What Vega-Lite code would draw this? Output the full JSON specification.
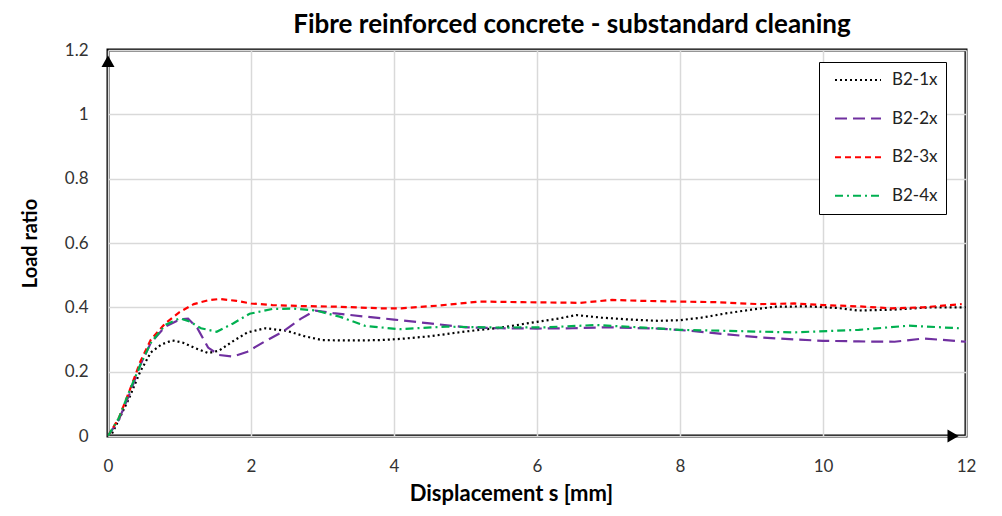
{
  "$schema": "https://vega.github.io/schema/vega-lite/v6.json",
  "width": 858,
  "height": 386,
  "autosize": {"type": "none"},
  "padding": {"left": 108, "top": 50, "right": 36, "bottom": 80},
  "config": {
    "font": "Lato",
    "view": {"stroke": "#000000", "strokeWidth": 3},
    "axis": {"labelFont": "Lato", "titleFont": "Lato"}
  },
  "title": {
    "text": "Fibre reinforced concrete - substandard cleaning",
    "font": "Lato",
    "fontSize": 26,
    "fontWeight": "bold",
    "color": "#000000",
    "anchor": "middle",
    "dx": 35,
    "offset": 3
  },
  "datasets": {
    "curves": [
      {"s": 0, "r": 0, "series": "B2-1x"},
      {"s": 0.05, "r": 0.005, "series": "B2-1x"},
      {"s": 0.15, "r": 0.05, "series": "B2-1x"},
      {"s": 0.3, "r": 0.12, "series": "B2-1x"},
      {"s": 0.45, "r": 0.2, "series": "B2-1x"},
      {"s": 0.6, "r": 0.26, "series": "B2-1x"},
      {"s": 0.75, "r": 0.285, "series": "B2-1x"},
      {"s": 0.9, "r": 0.297, "series": "B2-1x"},
      {"s": 1.05, "r": 0.29, "series": "B2-1x"},
      {"s": 1.2, "r": 0.275, "series": "B2-1x"},
      {"s": 1.4, "r": 0.258, "series": "B2-1x"},
      {"s": 1.55, "r": 0.265, "series": "B2-1x"},
      {"s": 1.75, "r": 0.295, "series": "B2-1x"},
      {"s": 1.95, "r": 0.322, "series": "B2-1x"},
      {"s": 2.2, "r": 0.335, "series": "B2-1x"},
      {"s": 2.5, "r": 0.327, "series": "B2-1x"},
      {"s": 2.75, "r": 0.31, "series": "B2-1x"},
      {"s": 3.0, "r": 0.298, "series": "B2-1x"},
      {"s": 3.4, "r": 0.297, "series": "B2-1x"},
      {"s": 3.8, "r": 0.298, "series": "B2-1x"},
      {"s": 4.1, "r": 0.302, "series": "B2-1x"},
      {"s": 4.5, "r": 0.31, "series": "B2-1x"},
      {"s": 5.0, "r": 0.325, "series": "B2-1x"},
      {"s": 5.5, "r": 0.337, "series": "B2-1x"},
      {"s": 6.0, "r": 0.355, "series": "B2-1x"},
      {"s": 6.3, "r": 0.365, "series": "B2-1x"},
      {"s": 6.55, "r": 0.376, "series": "B2-1x"},
      {"s": 6.9, "r": 0.368, "series": "B2-1x"},
      {"s": 7.3, "r": 0.362, "series": "B2-1x"},
      {"s": 7.7, "r": 0.358, "series": "B2-1x"},
      {"s": 8.0, "r": 0.36, "series": "B2-1x"},
      {"s": 8.3, "r": 0.368, "series": "B2-1x"},
      {"s": 8.64, "r": 0.381, "series": "B2-1x"},
      {"s": 9.0, "r": 0.393, "series": "B2-1x"},
      {"s": 9.34, "r": 0.402, "series": "B2-1x"},
      {"s": 9.8, "r": 0.403, "series": "B2-1x"},
      {"s": 10.2, "r": 0.398, "series": "B2-1x"},
      {"s": 10.5, "r": 0.39, "series": "B2-1x"},
      {"s": 11.0, "r": 0.393, "series": "B2-1x"},
      {"s": 11.5, "r": 0.4, "series": "B2-1x"},
      {"s": 12.0, "r": 0.4, "series": "B2-1x"},

      {"s": 0, "r": 0, "series": "B2-2x"},
      {"s": 0.15, "r": 0.05, "series": "B2-2x"},
      {"s": 0.3, "r": 0.13, "series": "B2-2x"},
      {"s": 0.45, "r": 0.22, "series": "B2-2x"},
      {"s": 0.6, "r": 0.29, "series": "B2-2x"},
      {"s": 0.8, "r": 0.34, "series": "B2-2x"},
      {"s": 1.0, "r": 0.362, "series": "B2-2x"},
      {"s": 1.12, "r": 0.365, "series": "B2-2x"},
      {"s": 1.25, "r": 0.335, "series": "B2-2x"},
      {"s": 1.4, "r": 0.275, "series": "B2-2x"},
      {"s": 1.55, "r": 0.252, "series": "B2-2x"},
      {"s": 1.75, "r": 0.247, "series": "B2-2x"},
      {"s": 1.95, "r": 0.262, "series": "B2-2x"},
      {"s": 2.2, "r": 0.295, "series": "B2-2x"},
      {"s": 2.45, "r": 0.325, "series": "B2-2x"},
      {"s": 2.7, "r": 0.365, "series": "B2-2x"},
      {"s": 2.9, "r": 0.39, "series": "B2-2x"},
      {"s": 3.15, "r": 0.382, "series": "B2-2x"},
      {"s": 3.6, "r": 0.371, "series": "B2-2x"},
      {"s": 4.0, "r": 0.362, "series": "B2-2x"},
      {"s": 4.5, "r": 0.35, "series": "B2-2x"},
      {"s": 5.0, "r": 0.338, "series": "B2-2x"},
      {"s": 5.5, "r": 0.335, "series": "B2-2x"},
      {"s": 6.0, "r": 0.334, "series": "B2-2x"},
      {"s": 6.5, "r": 0.335, "series": "B2-2x"},
      {"s": 7.0, "r": 0.338, "series": "B2-2x"},
      {"s": 7.7, "r": 0.334, "series": "B2-2x"},
      {"s": 8.2, "r": 0.326, "series": "B2-2x"},
      {"s": 8.55, "r": 0.318, "series": "B2-2x"},
      {"s": 9.1, "r": 0.307, "series": "B2-2x"},
      {"s": 9.6, "r": 0.3, "series": "B2-2x"},
      {"s": 10.0, "r": 0.296, "series": "B2-2x"},
      {"s": 10.5, "r": 0.294, "series": "B2-2x"},
      {"s": 11.0, "r": 0.293, "series": "B2-2x"},
      {"s": 11.4, "r": 0.303, "series": "B2-2x"},
      {"s": 11.6, "r": 0.3, "series": "B2-2x"},
      {"s": 12.0, "r": 0.293, "series": "B2-2x"},

      {"s": 0, "r": 0, "series": "B2-3x"},
      {"s": 0.15, "r": 0.055, "series": "B2-3x"},
      {"s": 0.3, "r": 0.14, "series": "B2-3x"},
      {"s": 0.45, "r": 0.23, "series": "B2-3x"},
      {"s": 0.6, "r": 0.3, "series": "B2-3x"},
      {"s": 0.8, "r": 0.35, "series": "B2-3x"},
      {"s": 1.0, "r": 0.385, "series": "B2-3x"},
      {"s": 1.2, "r": 0.41, "series": "B2-3x"},
      {"s": 1.4, "r": 0.422, "series": "B2-3x"},
      {"s": 1.56, "r": 0.426, "series": "B2-3x"},
      {"s": 1.8, "r": 0.42, "series": "B2-3x"},
      {"s": 2.0, "r": 0.412, "series": "B2-3x"},
      {"s": 2.3, "r": 0.407, "series": "B2-3x"},
      {"s": 2.7, "r": 0.404, "series": "B2-3x"},
      {"s": 3.2, "r": 0.402, "series": "B2-3x"},
      {"s": 3.8, "r": 0.397, "series": "B2-3x"},
      {"s": 4.1, "r": 0.397, "series": "B2-3x"},
      {"s": 4.6, "r": 0.405, "series": "B2-3x"},
      {"s": 5.2, "r": 0.418, "series": "B2-3x"},
      {"s": 5.8, "r": 0.416, "series": "B2-3x"},
      {"s": 6.6, "r": 0.414, "series": "B2-3x"},
      {"s": 7.05, "r": 0.423, "series": "B2-3x"},
      {"s": 7.5, "r": 0.42, "series": "B2-3x"},
      {"s": 8.0, "r": 0.418, "series": "B2-3x"},
      {"s": 8.5, "r": 0.416, "series": "B2-3x"},
      {"s": 9.1, "r": 0.41, "series": "B2-3x"},
      {"s": 9.6, "r": 0.412, "series": "B2-3x"},
      {"s": 10.0, "r": 0.407, "series": "B2-3x"},
      {"s": 10.5, "r": 0.403, "series": "B2-3x"},
      {"s": 10.96, "r": 0.397, "series": "B2-3x"},
      {"s": 11.4, "r": 0.4, "series": "B2-3x"},
      {"s": 11.94, "r": 0.41, "series": "B2-3x"},

      {"s": 0, "r": 0, "series": "B2-4x"},
      {"s": 0.15, "r": 0.055, "series": "B2-4x"},
      {"s": 0.3, "r": 0.14, "series": "B2-4x"},
      {"s": 0.45, "r": 0.22, "series": "B2-4x"},
      {"s": 0.6, "r": 0.29, "series": "B2-4x"},
      {"s": 0.8, "r": 0.345, "series": "B2-4x"},
      {"s": 1.0, "r": 0.366, "series": "B2-4x"},
      {"s": 1.15, "r": 0.355, "series": "B2-4x"},
      {"s": 1.3, "r": 0.335, "series": "B2-4x"},
      {"s": 1.52, "r": 0.324, "series": "B2-4x"},
      {"s": 1.75, "r": 0.35, "series": "B2-4x"},
      {"s": 1.98, "r": 0.38, "series": "B2-4x"},
      {"s": 2.3, "r": 0.395, "series": "B2-4x"},
      {"s": 2.6, "r": 0.396, "series": "B2-4x"},
      {"s": 2.91, "r": 0.39, "series": "B2-4x"},
      {"s": 3.24, "r": 0.371, "series": "B2-4x"},
      {"s": 3.6, "r": 0.342, "series": "B2-4x"},
      {"s": 4.08, "r": 0.332, "series": "B2-4x"},
      {"s": 4.73, "r": 0.34, "series": "B2-4x"},
      {"s": 5.5, "r": 0.337, "series": "B2-4x"},
      {"s": 6.13, "r": 0.338, "series": "B2-4x"},
      {"s": 6.83, "r": 0.345, "series": "B2-4x"},
      {"s": 7.5, "r": 0.337, "series": "B2-4x"},
      {"s": 8.0, "r": 0.33, "series": "B2-4x"},
      {"s": 8.64, "r": 0.327, "series": "B2-4x"},
      {"s": 9.57, "r": 0.322, "series": "B2-4x"},
      {"s": 10.5, "r": 0.33, "series": "B2-4x"},
      {"s": 11.2, "r": 0.343, "series": "B2-4x"},
      {"s": 11.9, "r": 0.335, "series": "B2-4x"}
    ],
    "arrows": [
      {"s": 0, "r": 1.165, "dir": "up"},
      {"s": 11.82, "r": 0, "dir": "right"}
    ]
  },
  "layer": [
    {
      "data": {"name": "curves"},
      "mark": {"type": "line", "strokeWidth": 2.2, "clip": true},
      "encoding": {
        "x": {
          "field": "s", "type": "quantitative",
          "scale": {"domain": [0, 12], "nice": false},
          "axis": {
            "values": [0, 2, 4, 6, 8, 10, 12],
            "format": "~g",
            "labelFlush": false,
            "title": "Displacement s [mm]",
            "titleFontSize": 22, "titleFontWeight": "bold", "titleColor": "#000000",
            "titleX": 403, "titleY": 57, "titleBaseline": "middle", "titleAlign": "center",
            "labelFontSize": 17, "labelColor": "#333333", "labelPadding": 22,
            "ticks": false, "domain": false,
            "grid": true, "gridColor": "#d9d9d9", "gridWidth": 1.5
          }
        },
        "y": {
          "field": "r", "type": "quantitative",
          "scale": {"domain": [0, 1.2], "nice": false},
          "axis": {
            "values": [0, 0.2, 0.4, 0.6, 0.8, 1, 1.2],
            "format": "~g",
            "labelFlush": false,
            "title": "Load ratio",
            "titleFontSize": 20, "titleFontWeight": "bold", "titleColor": "#000000",
            "titleX": -78, "titleY": 193, "titleAngle": -90, "titleBaseline": "middle", "titleAlign": "center",
            "labelFontSize": 17, "labelColor": "#333333", "labelPadding": 20,
            "ticks": false, "domain": false,
            "grid": true, "gridColor": "#d9d9d9", "gridWidth": 1.5
          }
        },
        "color": {
          "field": "series", "type": "nominal",
          "scale": {"domain": ["B2-1x", "B2-2x", "B2-3x", "B2-4x"], "range": ["#000000", "#7030A0", "#FF0000", "#00B050"]},
          "legend": {
            "title": null,
            "orient": "none",
            "legendX": 711,
            "legendY": 12,
            "direction": "vertical",
            "strokeColor": "#000000",
            "fillColor": "#ffffff",
            "padding": 8,
            "symbolType": "stroke",
            "symbolSize": 2116,
            "symbolStrokeWidth": 2,
            "symbolOffset": 7,
            "clipHeight": 20,
            "labelFontSize": 17,
            "labelFont": "Lato",
            "labelColor": "#222222",
            "labelOffset": 10,
            "labelExpr": "datum.label + '\u00a0\u00a0\u00a0\u00a0'",
            "rowPadding": 18.6
          }
        },
        "strokeDash": {
          "field": "series", "type": "nominal",
          "scale": {"domain": ["B2-1x", "B2-2x", "B2-3x", "B2-4x"], "range": [[2, 3], [12, 6], [6, 4], [8, 4, 2, 4]]},
          "legend": null
        }
      }
    },
    {
      "data": {"name": "arrows"},
      "mark": {"type": "point", "filled": true, "color": "#000000", "size": 170, "opacity": 1},
      "encoding": {
        "x": {"field": "s", "type": "quantitative"},
        "y": {"field": "r", "type": "quantitative"},
        "shape": {
          "field": "dir", "type": "nominal",
          "scale": {"domain": ["up", "right"], "range": ["triangle-up", "triangle-right"]},
          "legend": null
        }
      }
    }
  ]
}
